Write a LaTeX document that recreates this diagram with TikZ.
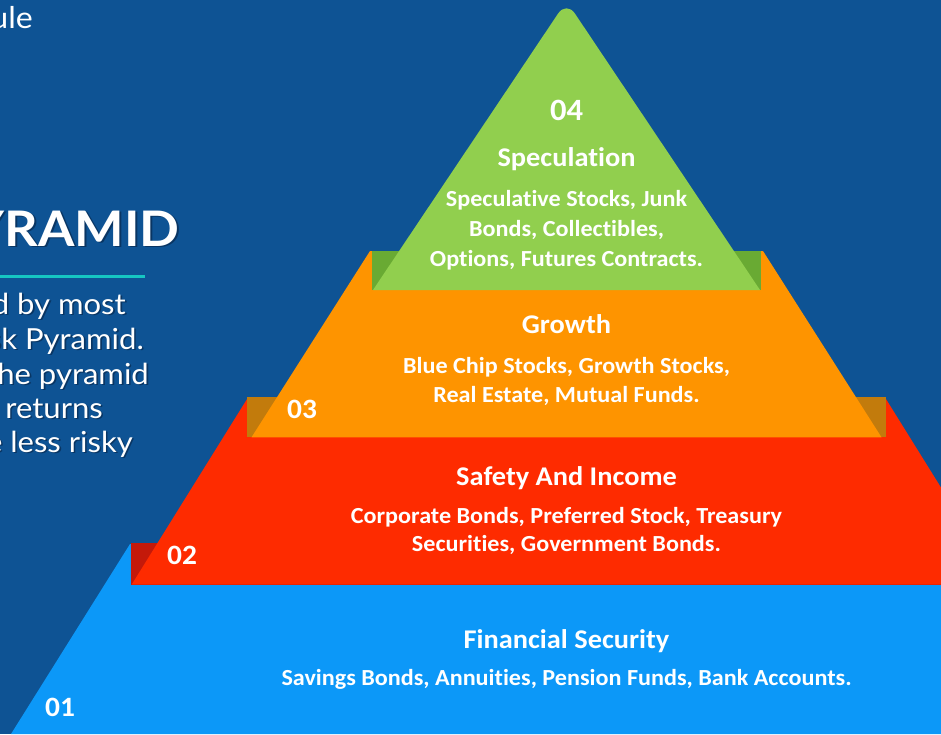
\documentclass[tikz,border=0pt]{standalone}
\usepackage{fontspec}
\setmainfont{Lato}[FakeStretch=1.07]
\newfontfamily\tierfont{Carlito}[FakeStretch=1.05, Ligatures=NoCommon]

\definecolor{slidebg}{RGB}{14,83,148}
\definecolor{tierBlue}{RGB}{12,152,248}
\definecolor{tierRed}{RGB}{254,43,0}
\definecolor{tierRedDark}{RGB}{196,25,10}
\definecolor{tierOrange}{RGB}{254,148,0}
\definecolor{tierOrangeDark}{RGB}{194,123,12}
\definecolor{tierGreen}{RGB}{145,207,78}
\definecolor{tierGreenDark}{RGB}{105,170,51}
\definecolor{accentRule}{RGB}{22,198,194}
\definecolor{textShade}{RGB}{5,30,60}

% a white label with a soft dark copy just below-right of it
\newcommand\shadednode[4]{%
  \node[#3, text=textShade, text opacity=0.55, xshift=1.6pt, yshift=-1.6pt] (#1-shade) at (#2) {#4};
  \node[#3] (#1) at (#2) {#4};}

\begin{document}
\begin{tikzpicture}[x=1pt,y=-1pt,
  slidetext/.style={text=white, inner sep=0pt, anchor=base east,
    font=\fontsize{29}{34}\selectfont},
  slidetitle/.style={text=white, inner sep=0pt, anchor=base east,
    font=\bfseries\fontsize{49}{56}\selectfont},
  tierhead/.style={text=white, inner sep=0pt, anchor=base,
    font=\tierfont\bfseries\fontsize{27}{32}\selectfont},
  tierbody/.style={text=white, inner sep=0pt, anchor=base,
    font=\tierfont\bfseries\fontsize{23}{28}\selectfont},
  tiernum/.style={text=white, inner sep=0pt, anchor=base west,
    font=\tierfont\bfseries\fontsize{28}{32}\selectfont}]

\useasboundingbox (0,0) rectangle (941,734);
\clip (0,0) rectangle (941,734);
\fill[slidebg] (0,0) rectangle (941,734);

% ---- pyramid, symmetric about x = 566.5 ----
% tier 01
\fill[tierBlue] (130,544) -- (1003,544) -- (1122,734) -- (11,734) -- cycle;
% tier 02 with its folded band
\fill[tierRedDark] (130.7,543.3) rectangle (1003,584.5);
\fill[tierRed] (248.3,397) -- (884.7,397) -- (1001.3,584.5) -- (131.7,584.5) -- cycle;
% tier 03 with its folded band
\fill[tierOrangeDark] (247.3,397) rectangle (885.7,437.3);
\fill[tierOrange] (370,251) -- (763,251) -- (881.5,437.3) -- (251.5,437.3) -- cycle;
% tier 04 with its folded band
\fill[tierGreenDark] (371.7,251) rectangle (761.3,290);
\fill[tierGreen] (373,290) [rounded corners=15pt] -- (566.5,1) [sharp corners] -- (760,290) -- cycle;

% ---- tier labels ----
\node[tiernum, anchor=base, font=\tierfont\bfseries\fontsize{31}{34}\selectfont] (num4) at (566.5,120) {04};
\node[tierhead] (head4) at (566.5,166.7) {Speculation};
\node[tierbody] (body4a) at (566.5,206.7) {Speculative Stocks, Junk};
\node[tierbody] (body4b) at (566.5,236.7) {Bonds, Collectibles,};
\node[tierbody] (body4c) at (566.5,266.7) {Options, Futures Contracts.};

\node[tierhead] (head3) at (566.5,333.3) {Growth};
\node[tierbody] (body3a) at (566.5,373.3) {Blue Chip Stocks, Growth Stocks,};
\node[tierbody] (body3b) at (566.5,402.3) {Real Estate, Mutual Funds.};
\node[tiernum] (num3) at (287,418.3) {03};

\node[tierhead] (head2) at (566.5,485.5) {Safety And Income};
\node[tierbody] (body2a) at (566.5,523.3) {Corporate Bonds, Preferred Stock, Treasury};
\node[tierbody] (body2b) at (566.5,551.7) {Securities, Government Bonds.};
\node[tiernum] (num2) at (167,564.5) {02};

\node[tierhead] (head1) at (566.5,648) {Financial Security};
\node[tierbody] (body1) at (566.5,685) {Savings Bonds, Annuities, Pension Funds, Bank Accounts.};
\node[tiernum] (num1) at (45,716) {01};

% ---- slide text on the left ----
\node[slidetext, font=\fontsize{30}{34}\selectfont] (heading) at (33,28) {ule};
\shadednode{title}{180,246}{slidetitle}{YRAMID}
\coordinate (ruleL) at (-2,276.7);
\coordinate (ruleR) at (145,276.7);
\draw[accentRule, line width=3.4pt] (ruleL) -- (ruleR);
\shadednode{line1}{126,314}{slidetext}{d by most}
\shadednode{line2}{144,349}{slidetext}{sk Pyramid.}
\shadednode{line3}{149,384}{slidetext}{he pyramid}
\shadednode{line4}{103,418}{slidetext}{r returns}
\shadednode{line5}{133,452}{slidetext}{e less risky}
\end{tikzpicture}
\end{document}
